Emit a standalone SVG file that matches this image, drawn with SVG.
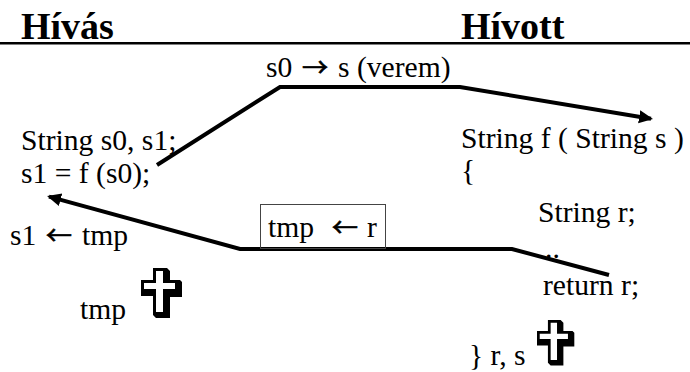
<svg xmlns="http://www.w3.org/2000/svg" xmlns:xlink="http://www.w3.org/1999/xlink" width="690" height="372" viewBox="0 0 690 372">
<style>
text{font-family:"Liberation Serif","Times New Roman",serif;font-size:29.6px;fill:#000;white-space:pre}
.h{font-size:38px;font-weight:bold}
.a{font-family:"Noto Sans CJK JP","DejaVu Sans",sans-serif;font-size:26px;stroke:#000;stroke-width:.7px}
.c{fill:none;stroke:#000;stroke-width:4}
</style>
<defs>
<marker id="ah" markerUnits="userSpaceOnUse" markerWidth="20" markerHeight="16" refX="12" refY="8" orient="auto"><path d="M0 1.500 L14 8 L0 14.500 Z" fill="#000"/></marker>
<g id="cross">
<path d="M153 268H167L170 271V280H180L182 282V297H170V318H156L153 315V296H141V280H153Z" fill="#000"/>
<path d="M156 271H163V283H175V289H163V312H156V289H144V283H156Z" fill="#fff"/>
</g>
</defs>
<rect width="690" height="372" fill="#fff"/>
<g id="header">
<text class="h" x="21" y="39">Hívás</text>
<text class="h" x="461" y="39">Hívott</text>
<rect x="0" y="42" width="690" height="2.500" fill="#000"/>
</g>
<g id="connectors">
<polyline class="c" points="157,165 280,87 460,87 651,118.700" marker-end="url(#ah)"/>
<polyline class="c" points="609,275 512,249 240,249 49,196.600" marker-end="url(#ah)"/>
</g>
<g id="node-stack"><text x="266" y="77">s0<tspan class="a" x="302">→</tspan><tspan x="338">s (verem)</tspan></text></g>
<g id="node-caller">
<text x="21" y="150">String s0, s1;</text>
<text x="21" y="183">s1 = f (s0);</text>
</g>
<g id="node-callee">
<text x="461" y="148">String f ( String s )</text>
<text x="461" y="180">{</text>
<text x="538" y="222">String r;</text>
<text x="545" y="258">..</text>
<text x="543" y="295">return r;</text>
<text x="469" y="365">} r, s</text>
<use xlink:href="#cross" href="#cross" transform="translate(537 320) scale(.91) translate(-141 -268)"/>
</g>
<g id="node-return">
<rect x="260.500" y="204.500" width="125" height="44" fill="none" stroke="#444" stroke-width="1"/>
<text x="268" y="237">tmp<tspan class="a" x="332">←</tspan><tspan x="367">r</tspan></text>
</g>
<g id="node-assign"><text x="10" y="245">s1<tspan class="a" x="46">←</tspan><tspan x="82">tmp</tspan></text></g>
<g id="node-tmp">
<text x="80" y="319">tmp</text>
<use xlink:href="#cross" href="#cross"/>
</g>
</svg>
